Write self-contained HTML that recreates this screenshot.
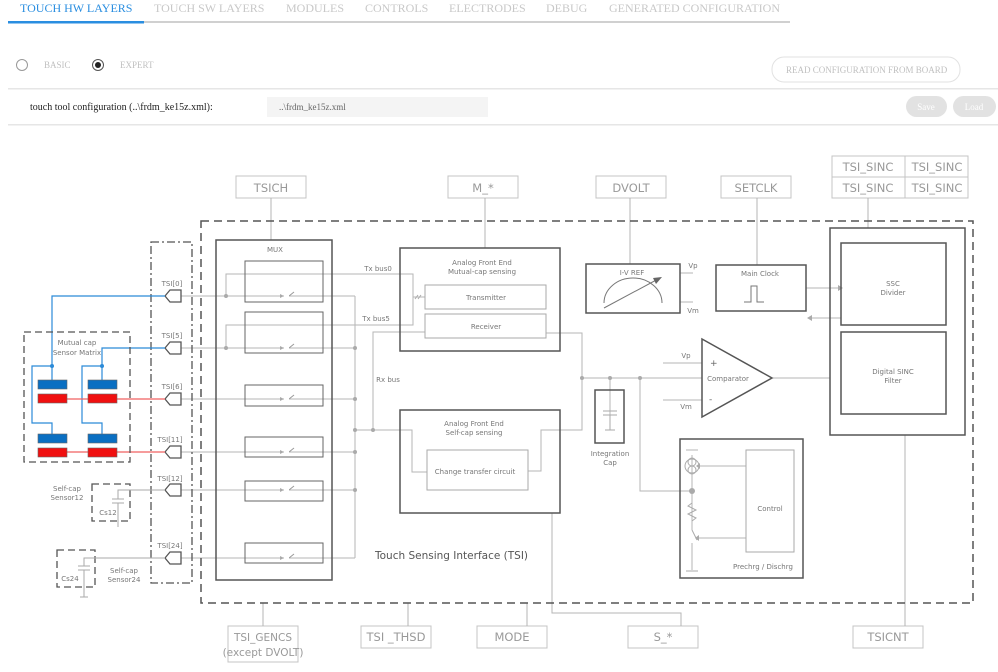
<!DOCTYPE html>
<html><head><meta charset="utf-8"><style>
body{margin:0;width:998px;height:672px;overflow:hidden;background:#fff;font-family:"Liberation Serif",serif;}
svg{position:absolute;left:0;top:0}
</style></head><body>
<svg width="998" height="672" viewBox="0 0 998 672" xmlns="http://www.w3.org/2000/svg">
<g font-family="Liberation Serif, serif" font-size="12">
<text x="20" y="12" fill="#2a8ee0">TOUCH HW LAYERS</text>
<text x="154" y="12" fill="#c8c8c8">TOUCH SW LAYERS</text>
<text x="286" y="12" fill="#c8c8c8">MODULES</text>
<text x="365" y="12" fill="#c8c8c8">CONTROLS</text>
<text x="449" y="12" fill="#c8c8c8">ELECTRODES</text>
<text x="546" y="12" fill="#c8c8c8">DEBUG</text>
<text x="609" y="12" fill="#c8c8c8">GENERATED CONFIGURATION</text>
</g>
<rect x="8" y="21" width="782" height="2" fill="#d0d0d0"/>
<rect x="8" y="21" width="136" height="2.5" fill="#2a8ee0"/>
<circle cx="22" cy="65" r="5.5" fill="none" stroke="#999"/>
<circle cx="98" cy="65" r="5.5" fill="none" stroke="#555"/>
<circle cx="98" cy="65" r="3" fill="#222"/>
<g font-family="Liberation Serif, serif" font-size="9" fill="#c0c0c0">
<text x="44" y="68">BASIC</text><text x="120" y="68">EXPERT</text>
<text x="786" y="73">READ CONFIGURATION FROM BOARD</text>
</g>
<rect x="772" y="57" width="188" height="25" rx="12" fill="none" stroke="#e2e2e2"/>
<rect x="8" y="88" width="990" height="1.5" fill="#e6e6e6"/>
<rect x="8" y="124" width="990" height="1.5" fill="#e6e6e6"/>
<text x="30" y="110" font-family="Liberation Serif, serif" font-size="10" fill="#222">touch tool configuration (..\frdm_ke15z.xml):</text>
<rect x="267" y="97" width="221" height="20" fill="#f4f4f4"/>
<text x="279" y="110" font-family="Liberation Serif, serif" font-size="9" fill="#666">..\frdm_ke15z.xml</text>
<rect x="906" y="96" width="41" height="21" rx="10.5" fill="#e2e2e2"/>
<rect x="953" y="96" width="43" height="21" rx="10.5" fill="#e2e2e2"/>
<text x="926" y="110" text-anchor="middle" font-family="Liberation Serif, serif" font-size="9" fill="#fff">Save</text>
<text x="974" y="110" text-anchor="middle" font-family="Liberation Serif, serif" font-size="9" fill="#fff">Load</text>

<g font-family="DejaVu Sans, Liberation Sans, sans-serif" fill="#999" stroke="none">
<g fill="none" stroke="#c4c4c4">
<rect x="236" y="176" width="70" height="22"/><rect x="448" y="176" width="70" height="22"/>
<rect x="596" y="176" width="70" height="22"/><rect x="721" y="176" width="70" height="22"/>
<rect x="832" y="156" width="136" height="42"/><line x1="832" y1="177" x2="968" y2="177"/><line x1="905" y1="156" x2="905" y2="198"/>
<rect x="228" y="626" width="70" height="36"/><rect x="361" y="626" width="70" height="22"/>
<rect x="477" y="626" width="70" height="22"/><rect x="628" y="626" width="70" height="22"/>
<rect x="853" y="626" width="70" height="22"/>
</g>
<g font-size="11.5" text-anchor="middle" fill="#999">
<text x="271" y="192">TSICH</text><text x="483" y="192">M_*</text><text x="631" y="192">DVOLT</text><text x="756" y="192">SETCLK</text>
<text x="868" y="171">TSI_SINC</text><text x="937" y="171">TSI_SINC</text><text x="868" y="192">TSI_SINC</text><text x="937" y="192">TSI_SINC</text>
<text x="396" y="641">TSI _THSD</text><text x="512" y="641">MODE</text><text x="663" y="641">S_*</text><text x="888" y="641">TSICNT</text>
</g>
<g font-size="10.5" text-anchor="middle" fill="#999">
<text x="263" y="641">TSI_GENCS</text><text x="263" y="656">(except DVOLT)</text>
</g>
</g>

<g fill="none" stroke="#b5b5b5" stroke-width="1">
<line x1="271" y1="198" x2="271" y2="240"/><line x1="485" y1="198" x2="485" y2="248"/>
<line x1="630" y1="198" x2="630" y2="264"/><line x1="757" y1="198" x2="757" y2="265"/>
<line x1="868" y1="198" x2="868" y2="228"/>
<line x1="263" y1="603" x2="263" y2="626"/><line x1="408" y1="603" x2="408" y2="626"/><line x1="527" y1="603" x2="527" y2="626"/>
<polyline points="552,513 552,613 681,613 681,626"/><line x1="905" y1="435" x2="905" y2="626"/>
<line x1="181" y1="296" x2="355" y2="296"/><line x1="181" y1="348" x2="355" y2="348"/>
<line x1="181" y1="399" x2="355" y2="399"/><line x1="181" y1="452" x2="355" y2="452"/>
<line x1="181" y1="490" x2="355" y2="490"/><line x1="181" y1="558" x2="355" y2="558"/>
<line x1="355" y1="296" x2="355" y2="558"/>
<polyline points="226,296 226,274 413,274 413,325 226,325 226,348"/>
<line x1="413" y1="297" x2="425" y2="297"/>
<polyline points="355,430 412,430 412,472 427,472"/>
<polyline points="373,430 373,332 425,332"/>
<polyline points="546,333 582,333 582,378 702,378"/>
<polyline points="528,471 541,471 541,430 582,430 582,378"/>
<line x1="610" y1="378" x2="610" y2="420"/>
<polyline points="640,378 640,491 692,491"/>
<line x1="663" y1="363" x2="702" y2="363"/><line x1="663" y1="400" x2="702" y2="400"/>
<line x1="772" y1="378" x2="830" y2="378"/>
<line x1="680" y1="273" x2="693" y2="273"/><line x1="680" y1="302" x2="693" y2="302"/>
<line x1="806" y1="288" x2="838" y2="288"/><line x1="812" y1="318" x2="841" y2="318"/>
<line x1="746" y1="466" x2="700" y2="466"/><line x1="746" y1="538" x2="699" y2="538"/>
<line x1="692" y1="455" x2="692" y2="530"/><line x1="692" y1="543" x2="692" y2="570"/>
<line x1="686" y1="450" x2="698" y2="450"/>
</g>
<g fill="#aaa">
<circle cx="226" cy="296" r="2"/><circle cx="226" cy="348" r="2"/>
<circle cx="355" cy="348" r="2"/><circle cx="355" cy="399" r="2"/><circle cx="355" cy="430" r="2"/><circle cx="355" cy="452" r="2"/><circle cx="355" cy="490" r="2"/>
<circle cx="373" cy="430" r="2"/><circle cx="582" cy="378" r="2"/><circle cx="610" cy="378" r="2"/><circle cx="640" cy="378" r="2"/>
<circle cx="692" cy="491" r="3"/>
<polygon points="838,285 843,288 838,291"/><polygon points="812,315 807,318 812,321"/>
<polygon points="700,463 696,466 700,469"/><polygon points="699,535 695,538 699,541"/>
</g>
<rect x="201" y="221" width="772" height="382" fill="none" stroke="#555" stroke-width="1.5" stroke-dasharray="8,5"/>
<rect x="151" y="242" width="41" height="341" fill="none" stroke="#555" stroke-width="1.3" stroke-dasharray="8,3,2,3"/>
<g fill="none" stroke="#555" stroke-width="1.5">
<rect x="216" y="240" width="116" height="340"/>
<rect x="400" y="248" width="160" height="103"/>
<rect x="400" y="410" width="160" height="103"/>
<rect x="586" y="264" width="94" height="49"/>
<rect x="716" y="265" width="90" height="46"/>
<rect x="595" y="390" width="29" height="53"/>
<polygon points="702,339 772,378 702,417"/>
<rect x="680" y="439" width="123" height="139"/>
<rect x="830" y="228" width="135" height="207"/>
<rect x="841" y="243" width="105" height="82"/>
<rect x="841" y="332" width="105" height="82"/>
</g>
<g fill="none" stroke="#666" stroke-width="1">
<rect x="245" y="261" width="78" height="41"/><rect x="245" y="312" width="78" height="41"/>
<rect x="245" y="385" width="78" height="21"/><rect x="245" y="437" width="78" height="20"/>
<rect x="245" y="481" width="78" height="20"/><rect x="245" y="543" width="78" height="20"/>
</g>
<g fill="none" stroke="#aaa">
<rect x="425" y="285" width="121" height="24"/><rect x="425" y="314" width="121" height="24"/>
<rect x="427" y="450" width="101" height="40"/>
<rect x="746" y="450" width="48" height="102"/>
</g>
<g fill="none" stroke="#777">
<path d="M604,303 A29,25 0 0 1 662,303"/><line x1="604" y1="308" x2="660" y2="278"/>
<polyline points="744,302 751,302 751,286 757,286 757,302 764,302"/>
</g>
<g fill="none" stroke="#aaa">
<line x1="603" y1="411" x2="617" y2="411"/><line x1="603" y1="415" x2="617" y2="415"/>
<line x1="610" y1="415" x2="610" y2="430"/><line x1="605" y1="430" x2="615" y2="430"/>
<circle cx="692" cy="466" r="7"/><circle cx="692" cy="462" r="4"/><circle cx="692" cy="470" r="4"/>
<polyline points="692,503 688,506 696,510 688,514 696,518 692,521"/>
<line x1="692" y1="530" x2="697" y2="540"/>
<line x1="686" y1="571" x2="698" y2="571"/>
<line x1="415" y1="299" x2="418" y2="295"/><line x1="418" y1="299" x2="421" y2="295"/>
</g>
<polygon points="662,277 653,278 656,284" fill="#666"/>
<g stroke="#999" fill="none">
<line x1="289" y1="296" x2="294" y2="292"/>
<line x1="289" y1="348" x2="294" y2="344"/><line x1="289" y1="399" x2="294" y2="395"/>
<line x1="289" y1="452" x2="294" y2="448"/><line x1="289" y1="490" x2="294" y2="486"/><line x1="289" y1="558" x2="294" y2="554"/>
</g>
<g fill="#fff"><rect x="284" y="294" width="5" height="4"/><rect x="284" y="346" width="5" height="4"/><rect x="284" y="397" width="5" height="4"/><rect x="284" y="450" width="5" height="4"/><rect x="284" y="488" width="5" height="4"/><rect x="284" y="556" width="5" height="4"/></g>
<g fill="#aaa"><polygon points="280,294 284,296 280,298"/><polygon points="280,346 284,348 280,350"/><polygon points="280,397 284,399 280,401"/><polygon points="280,450 284,452 280,454"/><polygon points="280,488 284,490 280,492"/><polygon points="280,556 284,558 280,560"/></g>
<g fill="#fff" stroke="#555" stroke-width="1.3">
<polygon points="165,296 170,290 181,290 181,302 170,302"/>
<polygon points="165,348 170,342 181,342 181,354 170,354"/>
<polygon points="165,399 170,393 181,393 181,405 170,405"/>
<polygon points="165,452 170,446 181,446 181,458 170,458"/>
<polygon points="165,490 170,484 181,484 181,496 170,496"/>
<polygon points="165,558 170,552 181,552 181,564 170,564"/>
</g>
<g fill="none" stroke="#2b8ad8" stroke-width="1.2">
<polyline points="165,296 52,296 52,383"/><polyline points="52,366 32,366 32,423 52,423 52,434"/>
<polyline points="165,348 102,348 102,383"/><polyline points="102,366 82,366 82,423 102,423 102,434"/>
</g>
<g fill="#2b8ad8"><circle cx="52" cy="366" r="2"/><circle cx="102" cy="366" r="2"/></g>
<g stroke="#f06060" stroke-width="1.2"><line x1="67" y1="399" x2="165" y2="399"/><line x1="67" y1="452" x2="165" y2="452"/></g>
<g stroke="#666" stroke-width="0.6">
<rect x="38" y="380" width="29" height="9" fill="#0a6fc2"/><rect x="88" y="380" width="29" height="9" fill="#0a6fc2"/>
<rect x="38" y="394" width="29" height="9" fill="#f01010"/><rect x="88" y="394" width="29" height="9" fill="#f01010"/>
<rect x="38" y="434" width="29" height="9" fill="#0a6fc2"/><rect x="88" y="434" width="29" height="9" fill="#0a6fc2"/>
<rect x="38" y="448" width="29" height="9" fill="#f01010"/><rect x="88" y="448" width="29" height="9" fill="#f01010"/>
</g>
<g fill="none" stroke="#555" stroke-width="1.3" stroke-dasharray="7,4">
<rect x="24" y="332" width="106" height="130"/>
<rect x="92" y="484" width="38" height="37"/>
<rect x="57" y="550" width="38" height="37"/>
</g>
<g fill="none" stroke="#aaa">
<polyline points="165,490 118,490 118,499"/><line x1="112" y1="499" x2="124" y2="499"/><line x1="112" y1="503" x2="124" y2="503"/><line x1="118" y1="503" x2="118" y2="527"/>
<polyline points="165,558 84,558 84,566"/><line x1="78" y1="566" x2="90" y2="566"/><line x1="78" y1="570" x2="90" y2="570"/><line x1="84" y1="570" x2="84" y2="597"/><line x1="80" y1="597" x2="88" y2="597"/>
</g>
<g font-family="DejaVu Sans, Liberation Sans, sans-serif" font-size="7" fill="#777" text-anchor="middle">
<text x="172" y="286">TSI[0]</text><text x="172" y="338">TSI[5]</text><text x="172" y="389">TSI[6]</text>
<text x="170" y="442">TSI[11]</text><text x="170" y="481">TSI[12]</text><text x="170" y="548">TSI[24]</text>
<text x="77" y="345">Mutual cap</text><text x="77" y="355">Sensor Matrix</text>
<text x="67" y="491">Self-cap</text><text x="67" y="500">Sensor12</text><text x="108" y="515">Cs12</text>
<text x="124" y="573">Self-cap</text><text x="124" y="582">Sensor24</text><text x="70" y="581">Cs24</text>
<text x="275" y="252">MUX</text>
<text x="378" y="271">Tx bus0</text><text x="376" y="321">Tx bus5</text><text x="388" y="382">Rx bus</text>
<text x="482" y="265">Analog Front End</text><text x="482" y="274">Mutual-cap sensing</text>
<text x="486" y="300">Transmitter</text><text x="486" y="329">Receiver</text>
<text x="474" y="426">Analog Front End</text><text x="474" y="435">Self-cap sensing</text>
<text x="475" y="474">Change transfer circuit</text>
<text x="610" y="456">Integration</text><text x="610" y="465">Cap</text>
<text x="632" y="275">I-V REF</text><text x="760" y="276">Main Clock</text>
<text x="693" y="268">Vp</text><text x="693" y="313">Vm</text>
<text x="686" y="358">Vp</text><text x="686" y="409">Vm</text>
<text x="728" y="381">Comparator</text>
<text x="770" y="511">Control</text><text x="763" y="569">Prechrg / Dischrg</text>
<text x="893" y="286">SSC</text><text x="893" y="295">Divider</text>
<text x="893" y="374">Digital SINC</text><text x="893" y="383">Filter</text>
</g>
<text x="710" y="366" font-family="DejaVu Sans, sans-serif" font-size="9" fill="#666">+</text>
<text x="709" y="402" font-family="DejaVu Sans, sans-serif" font-size="9" fill="#666">-</text>
<text x="375" y="559" font-family="DejaVu Sans, Liberation Sans, sans-serif" font-size="10.5" fill="#555">Touch Sensing Interface (TSI)</text>
</svg>
</body></html>
